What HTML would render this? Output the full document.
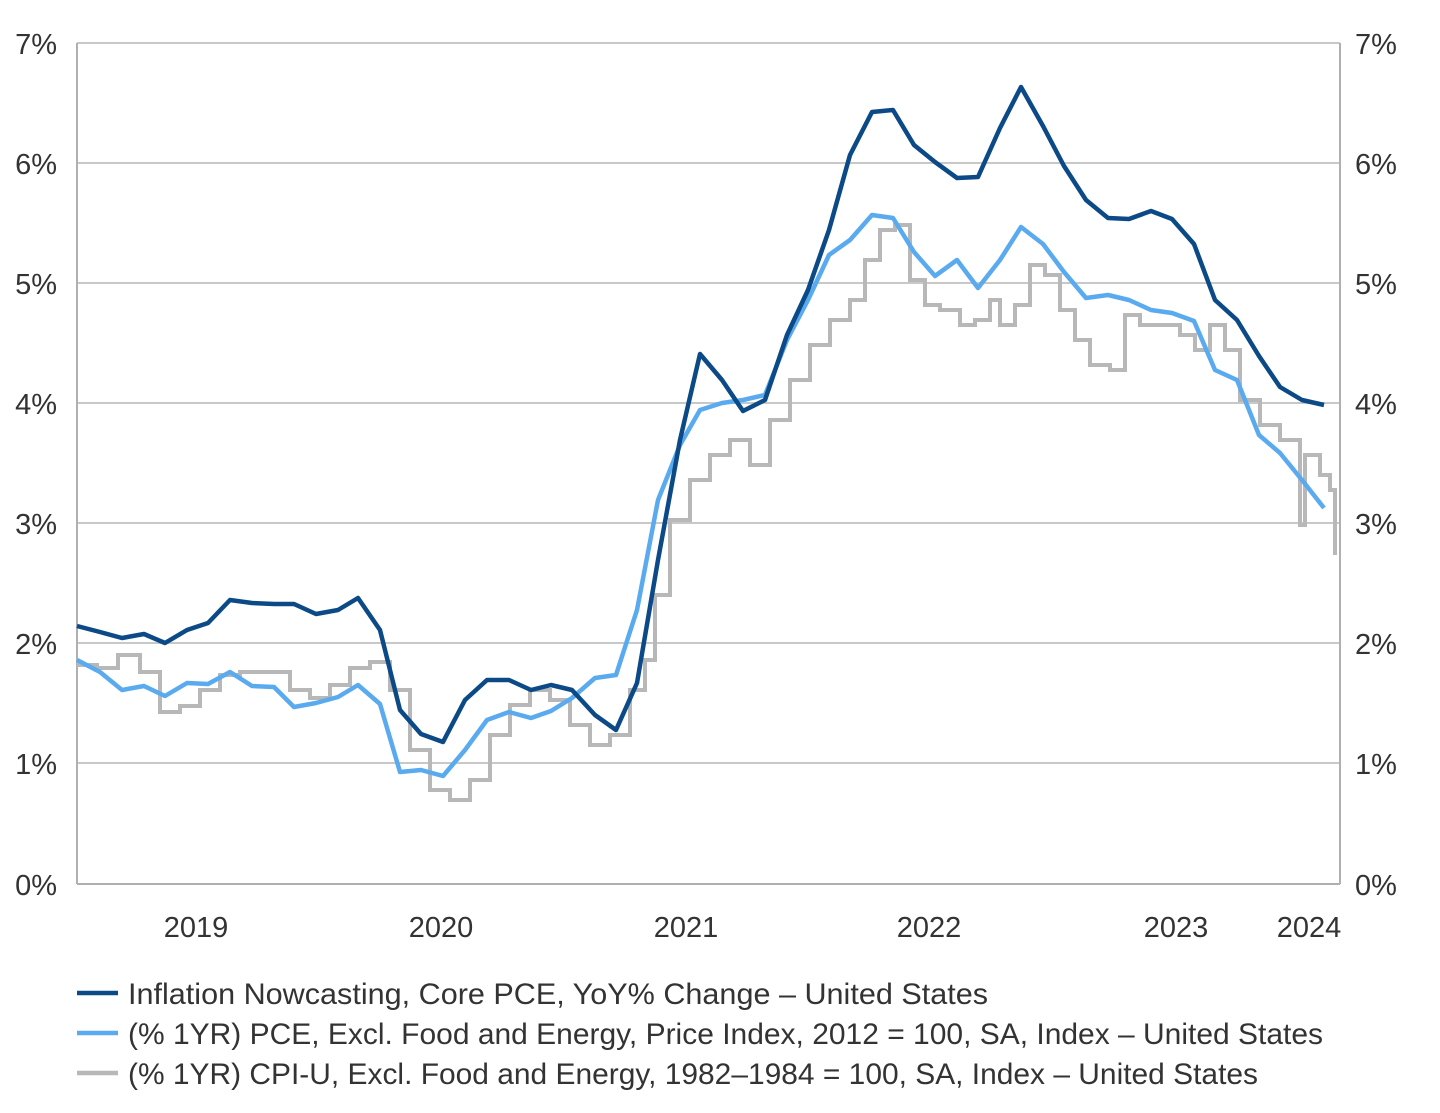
<!DOCTYPE html>
<html><head><meta charset="utf-8"><style>
html,body{margin:0;padding:0;background:#fff;}
svg{display:block;font-family:"Liberation Sans",sans-serif;}
</style></head><body>
<svg width="1440" height="1113" viewBox="0 0 1440 1113" xmlns="http://www.w3.org/2000/svg">
<g stroke="#c8c8c8" stroke-width="2">
<line x1="77" y1="43" x2="1340" y2="43"/>
<line x1="77" y1="163" x2="1340" y2="163"/>
<line x1="77" y1="283" x2="1340" y2="283"/>
<line x1="77" y1="403" x2="1340" y2="403"/>
<line x1="77" y1="523" x2="1340" y2="523"/>
<line x1="77" y1="643" x2="1340" y2="643"/>
<line x1="77" y1="763" x2="1340" y2="763"/>
</g>
<g stroke="#b0b0b0" stroke-width="2">
<line x1="77" y1="43" x2="77" y2="884"/>
<line x1="1340" y1="43" x2="1340" y2="884"/>
<line x1="77" y1="884" x2="1340" y2="884"/>
</g>
<g font-size="29" fill="#333">
<g text-anchor="end">
<text x="57" y="54">7%</text><text x="57" y="174">6%</text><text x="57" y="294">5%</text><text x="57" y="414">4%</text><text x="57" y="534">3%</text><text x="57" y="654">2%</text><text x="57" y="774">1%</text><text x="57" y="895">0%</text>
</g>
<text x="1355" y="54">7%</text><text x="1355" y="174">6%</text><text x="1355" y="294">5%</text><text x="1355" y="414">4%</text><text x="1355" y="534">3%</text><text x="1355" y="654">2%</text><text x="1355" y="774">1%</text><text x="1355" y="895">0%</text>
<g text-anchor="middle">
<text x="196" y="937">2019</text><text x="441" y="937">2020</text><text x="686" y="937">2021</text><text x="929" y="937">2022</text><text x="1176" y="937">2023</text><text x="1309" y="937">2024</text>
</g>
</g>
<path fill="none" stroke="#b8b8b8" stroke-width="4" d="M77,665 H97 V668 H118 V655 H140 V672 H160 V712 H180 V706 H200 V690 H220 V675 H240 V672 H290 V690 H310 V698 H330 V685 H350 V668 H370 V662 H390 V690 H410 V750 H430 V790 H450 V800 H470 V780 H490 V735 H510 V705 H530 V690 H550 V700 H570 V725 H590 V745 H610 V735 H630 V690 H645 V660 H655 V595 H670 V520 H690 V480 H710 V455 H730 V440 H750 V465 H770 V420 H790 V380 H810 V345 H830 V320 H850 V300 H865 V260 H880 V230 H895 V225 H910 V280 H925 V305 H940 V310 H960 V325 H975 V320 H990 V300 H1000 V325 H1015 V305 H1030 V265 H1045 V275 H1060 V310 H1075 V340 H1090 V365 H1110 V370 H1125 V315 H1140 V325 H1180 V335 H1195 V350 H1210 V325 H1225 V350 H1240 V400 H1260 V425 H1280 V440 H1300 V525 H1305 V455 H1320 V475 H1330 V490 H1335 V520 V555"/>
<polyline fill="none" stroke="#5aaaf0" stroke-width="4.5" stroke-linejoin="round" points="77,660 100,672 122,690 144,686 165,696 187,683 208,684 230,672 252,686 274,687 294,707 316,703 338,697 358,685 380,704 400,772 421,770 443,776 465,750 487,720 509,712 531,718 551,711 572,698 595,678 616,675 637,610 658,500 680,445 700,410 722,403 743,400 765,395 787,340 808,300 829,255 850,240 872,215 893,218 914,252 935,276 957,260 978,288 1000,260 1021,227 1043,244 1064,272 1086,298 1108,295 1129,300 1151,310 1172,313 1194,321 1215,370 1237,380 1259,435 1280,453 1302,480 1324,508"/>
<polyline fill="none" stroke="#0b4a86" stroke-width="4.5" stroke-linejoin="round" points="77,626 100,632 122,638 144,634 165,643 187,630 208,623 230,600 252,603 274,604 294,604 316,614 338,610 358,598 380,630 400,710 421,734 443,742 465,700 487,680 509,680 531,690 551,685 572,690 595,715 616,730 637,683 658,560 680,440 700,354 722,380 743,411 765,400 787,335 808,290 829,230 850,155 872,112 893,110 914,145 935,162 957,178 978,177 1000,128 1021,87 1043,126 1064,166 1086,200 1108,218 1129,219 1151,211 1172,219 1194,244 1215,300 1237,320 1259,356 1280,387 1302,400 1324,405"/>
<line x1="77" y1="993" x2="118" y2="993" stroke="#0b4a86" stroke-width="4.5"/>
<line x1="77" y1="1033" x2="118" y2="1033" stroke="#5aaaf0" stroke-width="4.5"/>
<line x1="77" y1="1073" x2="118" y2="1073" stroke="#b8b8b8" stroke-width="4.5"/>
<g font-size="30" fill="#333">
<text x="128" y="1004" textLength="860" lengthAdjust="spacingAndGlyphs">Inflation Nowcasting, Core PCE, YoY% Change – United States</text>
<text x="128" y="1044" textLength="1195" lengthAdjust="spacingAndGlyphs">(% 1YR) PCE, Excl. Food and Energy, Price Index, 2012 = 100, SA, Index – United States</text>
<text x="128" y="1084" textLength="1130" lengthAdjust="spacingAndGlyphs">(% 1YR) CPI-U, Excl. Food and Energy, 1982–1984 = 100, SA, Index – United States</text>
</g>
</svg>
</body></html>
